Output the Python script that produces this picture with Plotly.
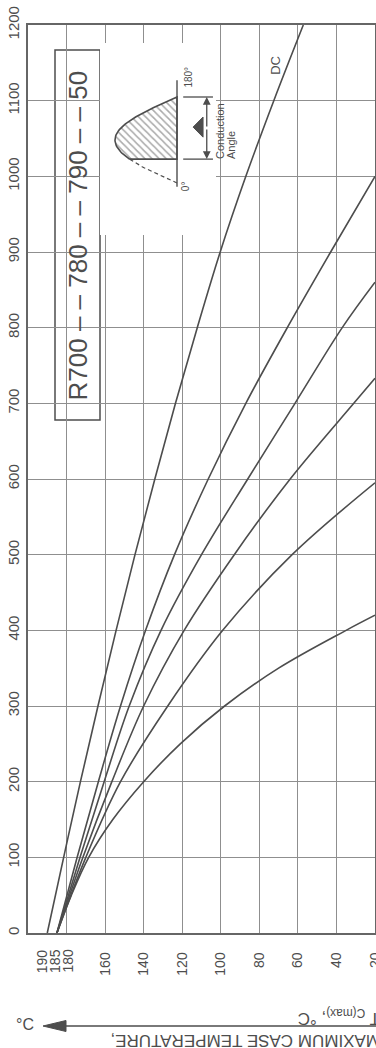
import numpy as np
import plotly.graph_objects as go

# Maximum allowable case temperature (°C) vs. average forward current (A)
current_dc = [0, 100, 200, 300, 400, 500, 600, 700, 800, 900, 1000, 1100, 1200]
temp_dc = [190, 181.5, 172.8, 163.7, 154.3, 144.5, 134.2, 123.5, 112.2, 100.3, 87, 72.5, 57.2]

current_180 = [0, 100, 200, 300, 400, 500, 600, 700, 800, 900, 1000]
temp_180 = [185, 174.5, 163.5, 152, 139, 124, 106.5, 87, 65.5, 43, 20]

current_120 = [0, 100, 200, 300, 400, 500, 600, 700, 800, 860]
temp_120 = [185, 173, 160.5, 147.5, 131, 110, 86, 61.5, 37, 20]

current_90 = [0, 100, 200, 300, 400, 500, 600, 700, 733]
temp_90 = [185, 171.5, 156.5, 140, 119, 93, 64, 31, 20]

current_60 = [0, 100, 200, 300, 400, 500, 595]
temp_60 = [185, 170, 152, 127.5, 99, 63, 20]

current_30 = [0, 50, 100, 150, 200, 250, 300, 350, 400, 420]
temp_30 = [185, 177.5, 168.5, 156, 140, 121, 98, 70, 35, 20]

temp_ticks = [180, 160, 140, 120, 100, 80, 60, 40, 20]
temp_ticks_crowded = [190, 185, 180]
current_ticks = list(range(0, 1300, 100))

W, H = 376, 1048
ML, MR, MT, MB = 28, 1, 25, 115
PW, PH = W - ML - MR, H - MT - MB

INK = "#4d4d4d"
GRID = "#8f8f8f"
FONT = "Liberation Sans, Arial, sans-serif"


def px(x):
    return (x - ML) / PW


def py(y):
    return (H - MB - y) / PH


fig = go.Figure()

curves = [
    ("DC", current_dc, temp_dc),
    ("180°", current_180, temp_180),
    ("120°", current_120, temp_120),
    ("90°", current_90, temp_90),
    ("60°", current_60, temp_60),
    ("30°", current_30, temp_30),
]
for name, cur, tmp in curves:
    fig.add_trace(go.Scatter(
        x=tmp, y=cur, mode="lines", name=name,
        line=dict(color=INK, width=1.6, shape="spline", smoothing=1.0),
        showlegend=False, hoverinfo="skip", xaxis="x", yaxis="y"))

# ---- conduction-angle sketch (inset axes: amplitude vs electrical angle) ----
start_angle = 50
theta_on = np.linspace(start_angle, 180, 60)
theta_off = np.linspace(0, start_angle, 20)
amp_on = np.sin(np.radians(theta_on))
amp_off = np.sin(np.radians(theta_off))

fig.add_trace(go.Scatter(
    x=np.concatenate([amp_on, [0, 0, amp_on[0]]]),
    y=np.concatenate([theta_on, [180, start_angle, start_angle]]),
    mode="lines", fill="toself", fillcolor="rgba(0,0,0,0)",
    fillpattern=dict(shape="\\", fgcolor="#555555", bgcolor="white", size=5, solidity=0.3),
    line=dict(color=INK, width=1.6), xaxis="x2", yaxis="y2",
    showlegend=False, hoverinfo="skip"))
fig.add_trace(go.Scatter(
    x=amp_off, y=theta_off, mode="lines",
    line=dict(color=INK, width=1.2, dash="4px,3px"), xaxis="x2", yaxis="y2",
    showlegend=False, hoverinfo="skip"))
# zero line of the waveform
fig.add_trace(go.Scatter(
    x=[0, 0], y=[-8, 215], mode="lines", line=dict(color=INK, width=1.4),
    xaxis="x2", yaxis="y2", showlegend=False, hoverinfo="skip"))
# dimension ticks
for ang in (start_angle, 180):
    fig.add_trace(go.Scatter(
        x=[-0.1, -0.58], y=[ang, ang], mode="lines", line=dict(color=INK, width=1.3),
        xaxis="x2", yaxis="y2", showlegend=False, hoverinfo="skip"))
# gate-trigger triangle
fig.add_trace(go.Scatter(
    x=[-0.26, -0.42, -0.42, -0.26], y=[117, 138, 96, 117], mode="lines",
    fill="toself", fillcolor=INK, line=dict(color=INK, width=1),
    xaxis="x2", yaxis="y2", showlegend=False, hoverinfo="skip"))

ann = []
mid = (start_angle + 180) / 2
for end in (start_angle, 180):
    ann.append(dict(x=-0.48, y=end, ax=-0.48, ay=mid, xref="x2", yref="y2",
                    axref="x2", ayref="y2", text="", showarrow=True,
                    arrowhead=2, arrowsize=1.2, arrowwidth=1.3, arrowcolor=INK))
ann.append(dict(x=-0.18, y=221, xref="x2", yref="y2", text="180°", textangle=-90,
                xanchor="center", yanchor="middle",
                showarrow=False, font=dict(family=FONT, size=10, color=INK)))
ann.append(dict(x=-0.15, y=-6, xref="x2", yref="y2", text="0°", textangle=-90,
                xanchor="center", yanchor="middle",
                showarrow=False, font=dict(family=FONT, size=10, color=INK)))
ann.append(dict(x=px(220), y=py(161), xref="paper", yref="paper", text="Conduction",
                textangle=-90, xanchor="center", yanchor="bottom", showarrow=False,
                font=dict(family=FONT, size=11, color=INK)))
ann.append(dict(x=px(231), y=py(161), xref="paper", yref="paper", text="Angle",
                textangle=-90, xanchor="center", yanchor="bottom", showarrow=False,
                font=dict(family=FONT, size=11, color=INK)))

# curve label
ann.append(dict(x=72, y=1147, xref="x", yref="y", text="DC", textangle=-90,
                xanchor="center", yanchor="middle",
                showarrow=False, font=dict(family=FONT, size=13, color=INK)))

# crowded temperature labels near the origin
for t, shift in zip(temp_ticks_crowded, (-5, -2, 1)):
    ann.append(dict(x=t, y=py(947), xref="x", yref="paper", text=str(t), textangle=-90,
                    xanchor="center", yanchor="top", xshift=shift, showarrow=False,
                    font=dict(family=FONT, size=14, color=INK)))

# device title
ann.append(dict(x=px(77.5), y=py(236), xref="paper", yref="paper",
                xanchor="center", yanchor="middle",
                text="R700 – – 780 – – 790 – – 50", textangle=-90, showarrow=False,
                font=dict(family=FONT, size=26, color=INK)))

# temperature axis caption
ann.append(dict(x=px(382), y=py(1028), xref="paper", yref="paper",
                xanchor="right", yanchor="middle",
                text="MAXIMUM CASE TEMPERATURE,<br>T <sub>C(max)</sub>, °C",
                textangle=180, align="left", showarrow=False,
                font=dict(family=FONT, size=17, color=INK)))
ann.append(dict(x=px(25), y=py(1024), xref="paper", yref="paper",
                xanchor="center", yanchor="middle",
                text="°C", showarrow=False, font=dict(family=FONT, size=16, color=INK)))

shapes = [
    # clear areas behind the title box and the sketch
    dict(type="rect", xref="paper", yref="paper", x0=px(46), x1=px(245), y0=py(235), y1=py(43),
         fillcolor="white", line=dict(width=0), layer="between"),
    dict(type="rect", xref="paper", yref="paper", x0=px(46), x1=px(103), y0=py(420), y1=py(235),
         fillcolor="white", line=dict(width=0), layer="between"),
    dict(type="rect", xref="paper", yref="paper", x0=px(55), x1=px(100), y0=py(420), y1=py(50),
         fillcolor="white", line=dict(color=INK, width=1.5), layer="between"),
    # caption arrow
    dict(type="line", xref="paper", yref="paper", x0=px(60), x1=px(380), y0=py(1026), y1=py(1026),
         line=dict(color=INK, width=1.4)),
    dict(type="path", xref="paper", yref="paper",
         path=f"M {px(43)} {py(1026)} L {px(66)} {py(1020.5)} L {px(66)} {py(1031.5)} Z",
         fillcolor=INK, line=dict(color=INK, width=1)),
]

fig.update_layout(
    width=W, height=H, margin=dict(l=ML, r=MR, t=MT, b=MB, pad=0),
    paper_bgcolor="white", plot_bgcolor="white",
    font=dict(family=FONT, color=INK),
    xaxis=dict(range=[200, 20], tickvals=temp_ticks,
               ticktext=[""] + [str(t) for t in temp_ticks[1:]],
               tickangle=-90, ticks="", ticklabelstandoff=12, ticklabeloverflow="allow",
               tickfont=dict(family=FONT, size=14, color=INK),
               showgrid=True, gridcolor=GRID, gridwidth=1, zeroline=False,
               showline=True, mirror=True, linecolor="#666666", linewidth=1.5,
               automargin=False, fixedrange=True),
    yaxis=dict(range=[0, 1200], tickvals=current_ticks, tickangle=-90, ticks="",
               ticklabelstandoff=1, ticklabeloverflow="allow",
               tickfont=dict(family=FONT, size=15, color=INK),
               showgrid=True, gridcolor=GRID, gridwidth=1, zeroline=False,
               showline=True, mirror=True, linecolor="#666666", linewidth=1.5,
               automargin=False, fixedrange=True),
    xaxis2=dict(domain=[px(100), px(216)], range=[77 / 62, -39 / 62], anchor="y2",
                visible=False, fixedrange=True),
    yaxis2=dict(domain=[py(235), py(43)], range=[-108.8, 293.0], anchor="x2",
                visible=False, fixedrange=True),
    annotations=ann, shapes=shapes, showlegend=False,
)

fig.write_html("out.html")
